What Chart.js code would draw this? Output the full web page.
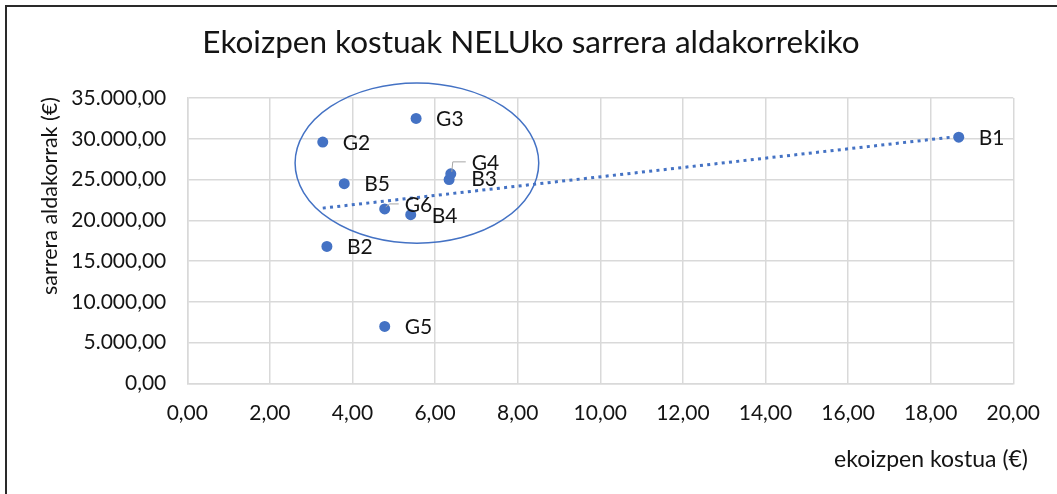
<!DOCTYPE html>
<html>
<head>
<meta charset="utf-8">
<script src="https://cdn.jsdelivr.net/npm/chart.js@4"></script>
<style>
  html, body { margin: 0; padding: 0; background: #fff; }
  #wrap { position: relative; width: 1057px; height: 494px; }
  #frame { position: absolute; left: 5px; top: 5px; width: 1060px; height: 487px;
           border-left: 2px solid #2a2a2a; border-top: 2px solid #2a2a2a; border-bottom: 1px solid #d9d9d9; }
  canvas { position: absolute; left: 0; top: 0; }
</style>
</head>
<body>
<div id="wrap">
  <div id="frame"></div>
  <canvas id="c" width="1057" height="494"></canvas>
</div>
<script>
// Ekoizpen kostuak vs sarrera aldakorrak — scatter + trendline + ellipse
const FONT = 'Lato, "Open Sans", sans-serif';
const BLUE = '#4472C4';
const INK = '#141414';

const names   = ['B1', 'B2', 'B3', 'B4', 'B5', 'G2', 'G3', 'G4', 'G5', 'G6'];
const costs   = [18.68, 3.38, 6.34, 5.41, 3.80, 3.28, 5.54, 6.38, 4.78, 4.78];
const incomes = [30200, 16800, 25000, 20700, 24500, 29600, 32500, 25700, 7000, 21400];

const trendX = [3.28, 18.68];
const trendY = [21500, 30300];

// ellipse drawn by hand round the cluster: x and y bounds in data units
const ellipseX = [2.61, 8.51];
const ellipseY = [17200, 36840];

const xMin = 0, xMax = 20, xStep = 2;
const yMin = 0, yMax = 35000, yStep = 5000;

// label placement (px from point), leader lines where Excel moved the label
const LABEL_OFF = { G4: [21, -11], G6: [20, -4], B4: [21, 2], B3: [22, 0] };
const LEADER = { G4: true, G6: true };

function fmt(v) {
  const [i, d] = Math.abs(v).toFixed(2).split('.');
  return (v < 0 ? '-' : '') + i.replace(/\B(?=(\d{3})+(?!\d))/g, '.') + ',' + d;
}

const points = names.map((n, i) => ({ x: costs[i], y: incomes[i] }));
const trend = trendX.map((x, i) => ({ x, y: trendY[i] }));

const extras = {
  id: 'extras',
  afterDatasetsDraw(chart) {
    const { ctx, scales: { x, y } } = chart;
    ctx.save();
    // ellipse
    const cx = x.getPixelForValue((ellipseX[0] + ellipseX[1]) / 2);
    const cy = y.getPixelForValue((ellipseY[0] + ellipseY[1]) / 2);
    const rx = Math.abs(x.getPixelForValue(ellipseX[1]) - x.getPixelForValue(ellipseX[0])) / 2;
    const ry = Math.abs(y.getPixelForValue(ellipseY[1]) - y.getPixelForValue(ellipseY[0])) / 2;
    ctx.beginPath();
    ctx.ellipse(cx, cy, rx, ry, 0, 0, Math.PI * 2);
    ctx.strokeStyle = BLUE; ctx.lineWidth = 1.5; ctx.stroke();

    // data labels
    ctx.font = '21px ' + FONT;
    ctx.fillStyle = INK;
    ctx.textBaseline = 'middle';
    ctx.textAlign = 'left';
    names.forEach((n, i) => {
      const px = x.getPixelForValue(costs[i]), py = y.getPixelForValue(incomes[i]);
      const [dx, dy] = LABEL_OFF[n] || [20, 1];
      if (LEADER[n]) {
        ctx.beginPath();
        ctx.strokeStyle = '#a6a6a6'; ctx.lineWidth = 1;
        if (n === 'G4') {
          ctx.moveTo(px + 1, py - 2); ctx.lineTo(px + 2, py + dy - 1); ctx.lineTo(px + dx - 6, py + dy - 1);
        } else {
          ctx.moveTo(px + 1, py - 2); ctx.lineTo(px + 5, py + dy - 1); ctx.lineTo(px + dx - 6, py + dy - 1);
        }
        ctx.stroke();
      }
      ctx.fillText(n, px + dx, py + dy);
    });

    // titles
    ctx.fillStyle = INK;
    ctx.font = '31.5px ' + FONT;
    ctx.textAlign = 'center';
    ctx.fillText('Ekoizpen kostuak NELUko sarrera aldakorrekiko', 531, 43);

    ctx.font = '23px ' + FONT;
    ctx.textAlign = 'right';
    ctx.fillText('ekoizpen kostua (€)', 1028, 460);

    ctx.font = '21.5px ' + FONT;
    ctx.translate(50, 196);
    ctx.rotate(-Math.PI / 2);
    ctx.textAlign = 'center';
    ctx.fillText('sarrera aldakorrak (€)', 0, 0);
    ctx.restore();
  }
};

new Chart(document.getElementById('c').getContext('2d'), {
  type: 'scatter',
  data: {
    datasets: [
      { label: 'trend', data: trend, showLine: true, pointRadius: 0, borderColor: BLUE,
        borderWidth: 3, borderDash: [3, 4.3], fill: false, order: 2 },
      { label: 'points', data: points, pointRadius: 5.5, pointHoverRadius: 5.5,
        backgroundColor: BLUE, borderColor: BLUE, borderWidth: 0, order: 1 },
    ]
  },
  options: {
    responsive: false,
    animation: false,
    devicePixelRatio: 1,
    layout: { padding: { left: 0, top: 98, right: 42, bottom: 70.5 } },
    plugins: { legend: { display: false }, tooltip: { enabled: false }, title: { display: false } },
    scales: {
      x: {
        type: 'linear', min: xMin, max: xMax,
        afterFit: s => { s.height = 40; },
        grid: { color: '#d9d9d9', lineWidth: 1.5, drawTicks: false },
        border: { color: '#d9d9d9', width: 1.5 },
        ticks: { stepSize: xStep, padding: 17, color: INK, autoSkip: false, maxRotation: 0,
                 font: { family: FONT, size: 21 }, callback: v => fmt(v) }
      },
      y: {
        type: 'linear', min: yMin, max: yMax,
        afterFit: s => { s.width = 187.3; },
        grid: { color: '#d9d9d9', lineWidth: 1.5, drawTicks: false },
        border: { color: '#d9d9d9', width: 1.5 },
        ticks: { stepSize: yStep, padding: 21, color: INK, font: { family: FONT, size: 21 },
                 callback: v => fmt(v) }
      }
    }
  },
  plugins: [extras]
});
</script>
</body>
</html>
